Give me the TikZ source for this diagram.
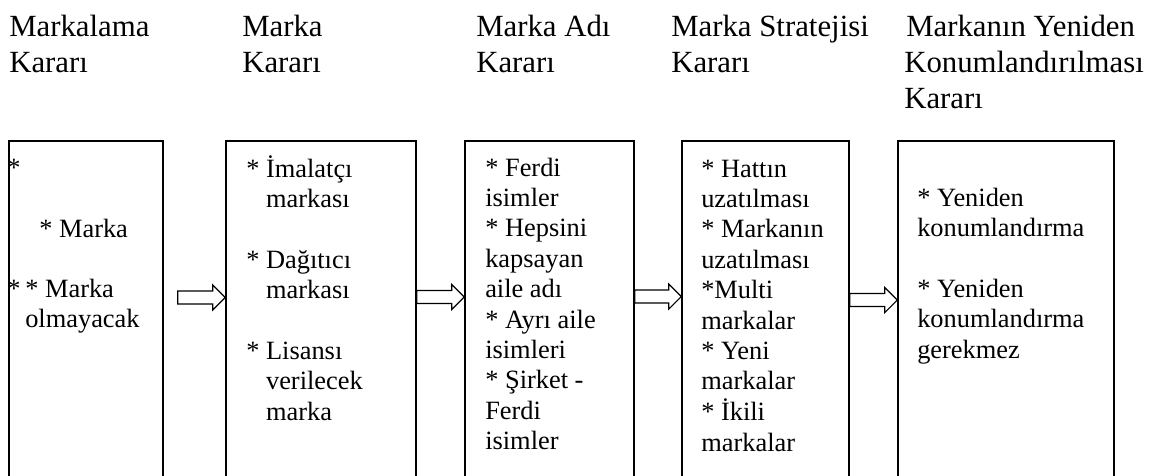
\documentclass[tikz,border=0pt]{standalone}
\usepackage{fontspec}
\setmainfont{Liberation Serif}
\usetikzlibrary{calc,fit}
% left-aligned stack of lines whose baseline is the first line's baseline
\newcommand{\stacklines}[1]{\begin{tabular}[t]{@{}l@{}}#1\end{tabular}}
\begin{document}
\begin{tikzpicture}[x=0.75pt,y=-0.75pt,
  head/.style={anchor=base west, inner sep=0pt,
    font=\fontsize{23.1pt}{27pt}\selectfont},
  body/.style={anchor=base west, inner sep=0pt,
    font=\fontsize{19.8pt}{22.8pt}\selectfont},
  stage/.style={draw, line width=1pt, inner sep=0pt},
  blockarrow/.style={draw, line width=0.9pt, fill=white, line join=miter,
    to path={($(\tikztostart)+(0,-6.5)$) -- ($(\tikztotarget)+(-12.5,-6.5)$)
      -- ($(\tikztotarget)+(-12.5,-12.5)$) -- (\tikztotarget)
      -- ($(\tikztotarget)+(-12.5,12.5)$) -- ($(\tikztotarget)+(-12.5,6.5)$)
      -- ($(\tikztostart)+(0,6.5)$) -- cycle}}
]
\useasboundingbox (0,0) rectangle (1163,475);
\clip (0,0) rectangle (1163,475);

% column headings
\node[head] (h1) at (9,36) {\stacklines{Markalama\\Kararı}};
\node[head] (h2) at (242,36) {\stacklines{Marka\\Kararı}};
\node[head] (h3) at (476,36) {\stacklines{Marka Adı\\Kararı}};
\node[head] (h4) at (671,36) {\stacklines{Marka Stratejisi\\Kararı}};
\node[head] (h5) at (904,36) {\stacklines{\hspace{1.5pt}Markanın Yeniden\\Konumlandırılması\\Kararı}};

% decision boxes (open at the bottom edge)
\node[stage, fit={(9,141) (163,500)}] (b1) {};
\node[stage, fit={(226,141) (416,500)}] (b2) {};
\node[stage, fit={(465,141) (634,500)}] (b3) {};
\node[stage, fit={(682,141) (849,500)}] (b4) {};
\node[stage, fit={(898,141) (1114,500)}] (b5) {};

% box contents ({} keeps a leading * from being read as \\*)
\node[body] (t1a) at (7,176) {*};
\node[body] (t1b) at (39,237) {* Marka};
\node[body] (t1c) at (7,297) {*};
\node[body] (t1d) at (25,297) {\stacklines{* Marka\\olmayacak}};

\node[body] (t2) at (246,177) {\stacklines{* İmalatçı\\\hphantom{* }markası\\[22.8pt]{}* Dağıtıcı\\\hphantom{* }markası\\[22.8pt]{}* Lisansı\\\hphantom{* }verilecek\\\hphantom{* }marka}};

\node[body] (t3) at (485,176) {\stacklines{* Ferdi\\isimler\\{}* Hepsini\\kapsayan\\aile adı\\{}* Ayrı aile\\isimleri\\{}* Şirket -\\Ferdi\\isimler}};

\node[body] (t4) at (701,177) {\stacklines{* Hattın\\uzatılması\\{}* Markanın\\uzatılması\\{}*Multi\\markalar\\{}* Yeni\\markalar\\{}* İkili\\markalar}};

\node[body] (t5) at (917,206) {\stacklines{* Yeniden\\konumlandırma\\[22.8pt]{}* Yeniden\\konumlandırma\\gerekmez}};

% hollow block arrows between the boxes
\coordinate (r1) at (0,297.5);
\coordinate (r2) at (0,297);
\coordinate (r3) at (0,296.5);
\coordinate (r4) at (0,300);
\coordinate (a1s) at ($(b1.east |- r1)+(14,0)$);
\draw[blockarrow] (a1s) to (b2.west |- a1s);
\draw[blockarrow] (b2.east |- r2) to (b3.west |- r2);
\draw[blockarrow] (b3.east |- r3) to (b4.west |- r3);
\draw[blockarrow] (b4.east |- r4) to (b5.west |- r4);
\end{tikzpicture}
\end{document}
